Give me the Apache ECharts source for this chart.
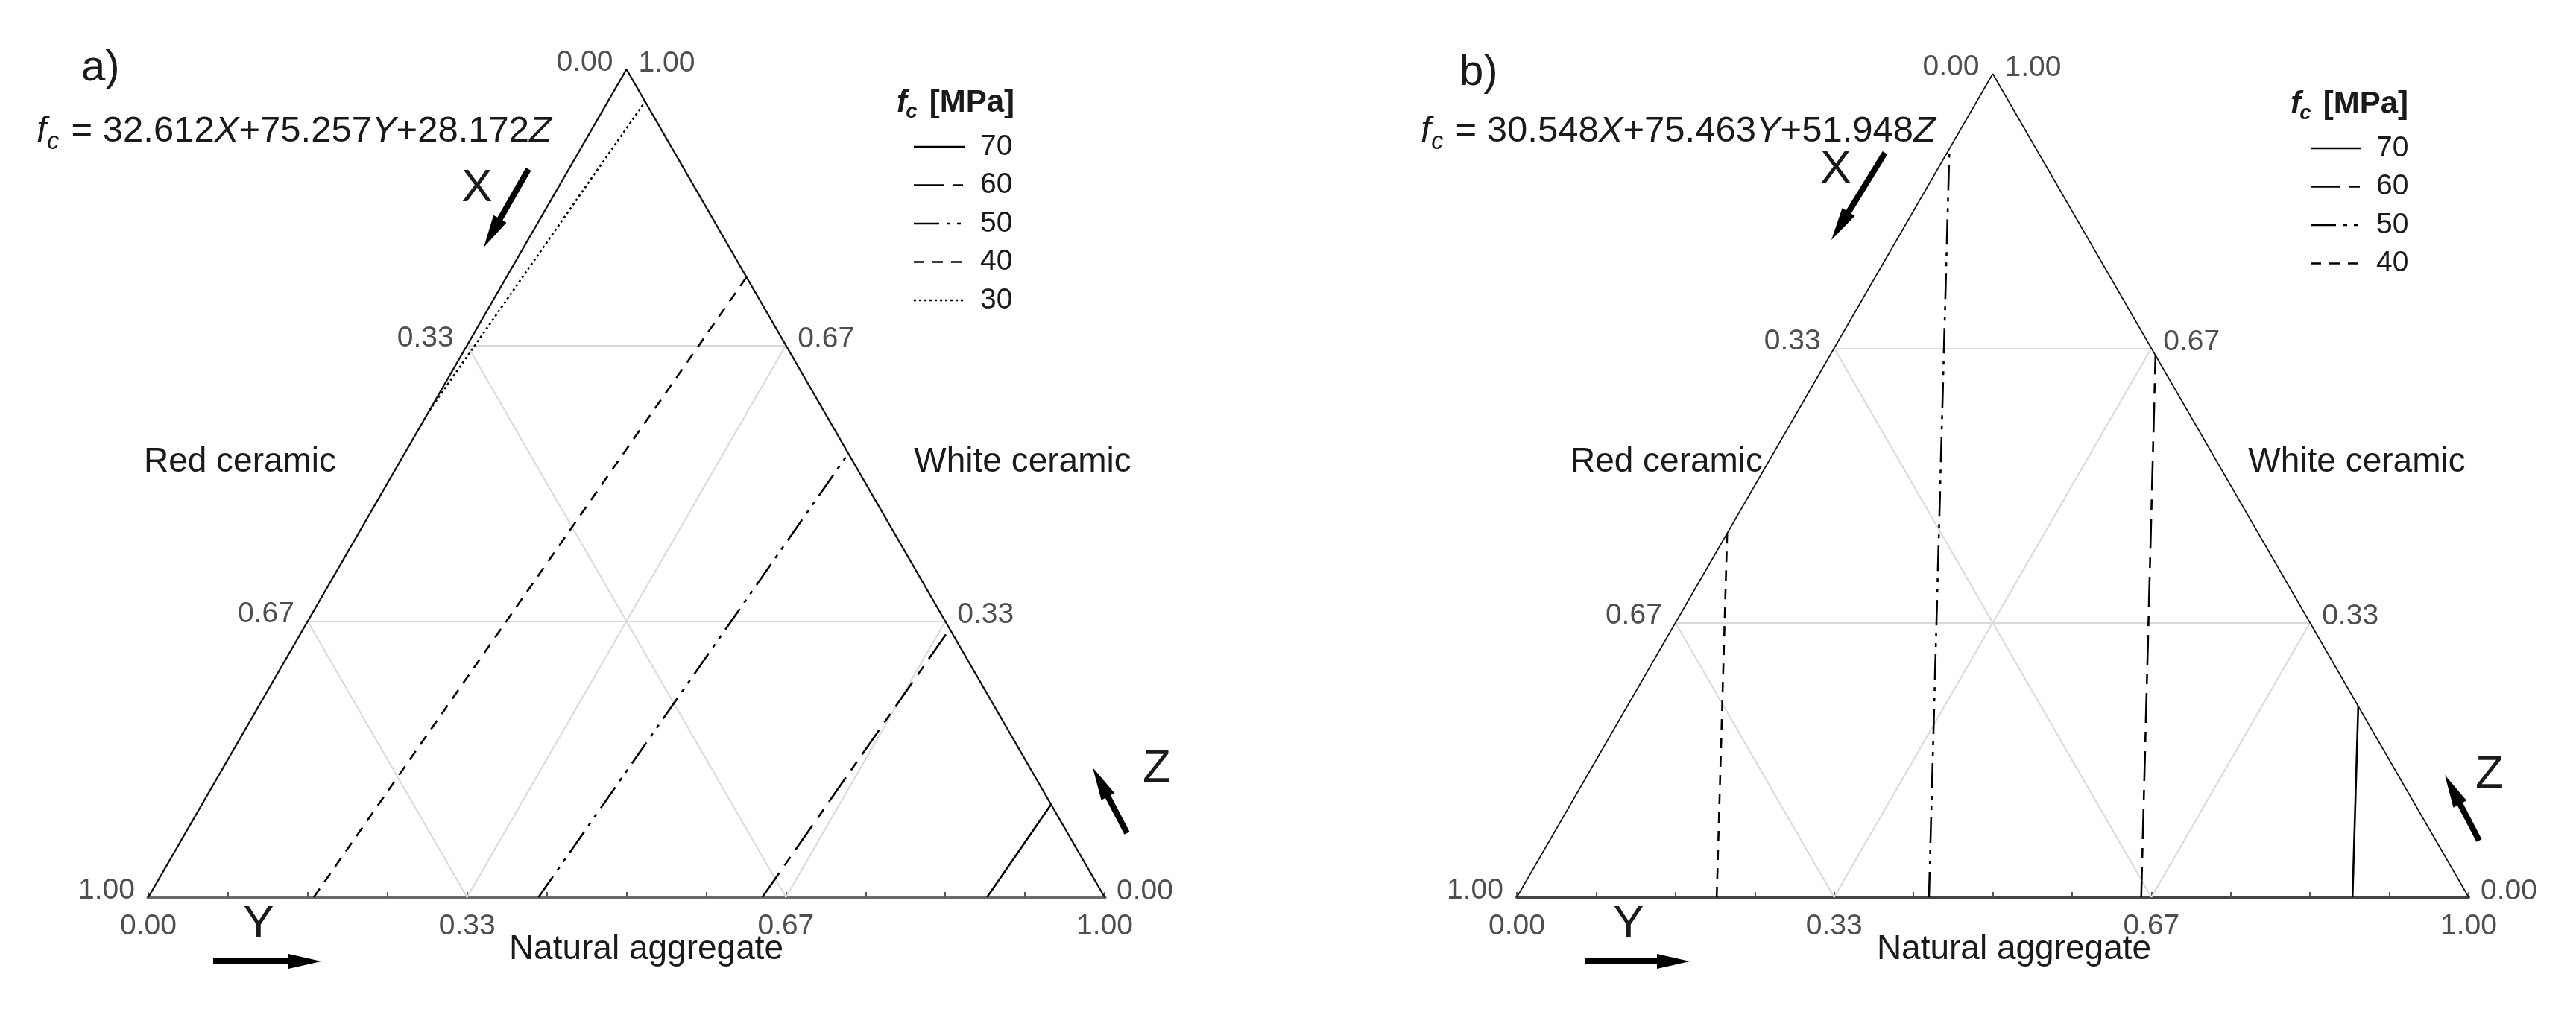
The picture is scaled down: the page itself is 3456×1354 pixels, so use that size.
<!DOCTYPE html>
<html><head><meta charset="utf-8">
<script src="https://cdn.jsdelivr.net/npm/echarts@6/dist/echarts.min.js"></script>
<style>html,body{margin:0;padding:0;background:#fff}#c{width:3456px;height:1354px}</style>
</head><body><div id="c"></div>
<script>
// ---- data ----
const tickLabels = ['0.00', '0.33', '0.67', '1.00'];
const gridFractions = [1 / 3, 2 / 3];
const componentNames = ['Red ceramic', 'White ceramic', 'Natural aggregate'];
const panelTags = ['a)', 'b)'];
// equation coefficients (X, Y, Z)
const coeffA = ['32.612', '75.257', '28.172'];
const coeffB = ['30.548', '75.463', '51.948'];
// contour levels (MPa) and their end points, as ternary (X, Y, Z)
const levelsA = [70, 60, 50, 40, 30];
const startA = [[0.123, 0.877, 0], [0.358, 0.642, 0], [0.592, 0.408, 0], [0.827, 0.173, 0], [0.412, 0, 0.588]];
const endA   = [[0, 0.888, 0.112], [0, 0.676, 0.324], [0, 0.464, 0.536], [0, 0.251, 0.749], [0, 0.039, 0.961]];
const levelsB = [70, 60, 50, 40];
const startB = [[0.122, 0.878, 0], [0.344, 0.656, 0], [0.567, 0.433, 0], [0.790, 0.210, 0]];
const endB   = [[0, 0.768, 0.232], [0, 0.342, 0.658], [0.091, 0, 0.909], [0.558, 0, 0.442]];

// ---- styles ----
const FONT = '"Liberation Sans", Arial, Helvetica, sans-serif';
const TXT = '#1a1a1a';
const dash = { 70: 'solid', 60: [40, 12, 14, 12], 50: [34, 10, 5, 9, 5, 10], 40: [14, 11], 30: [3, 4] };

// X: red ceramic (bottom-left = 1), Y: natural aggregate (bottom-right = 1), Z: white ceramic (apex = 1)
function tern(p) { return [p[1] + p[2] / 2, p[2]]; }

const panels = [
  { grid: { left: 199, top: 93, width: 1283, height: 1111 }, levels: levelsA, start: startA, end: endA, coeff: coeffA, edgeW: 2.4, baseW: 5, baseC: '#6a6a6a' },
  { grid: { left: 2035, top: 99, width: 1277, height: 1105 }, levels: levelsB, start: startB, end: endB, coeff: coeffB, edgeW: 1.7, baseW: 4, baseC: '#444' }
];

const grids = [], xAxes = [], yAxes = [], series = [];
panels.forEach((P, g) => {
  grids.push(P.grid);
  xAxes.push({
    gridIndex: g, type: 'value', min: 0, max: 1, interval: 1 / 12,
    axisLine: { show: true, lineStyle: { color: P.baseC, width: P.baseW } },
    axisTick: { show: true, inside: true, length: 7, lineStyle: { color: '#555', width: 2 } },
    axisLabel: { show: false }, splitLine: { show: false }
  });
  yAxes.push({ gridIndex: g, type: 'value', min: 0, max: 1, show: false });

  // light triangular grid
  const gl = [];
  gridFractions.forEach(v => {
    gl.push({ coords: [tern([v, 0, 1 - v]), tern([v, 1 - v, 0])] });
    gl.push({ coords: [tern([1 - v, v, 0]), tern([0, v, 1 - v])] });
    gl.push({ coords: [tern([1 - v, 0, v]), tern([0, 1 - v, v])] });
  });
  series.push({ type: 'lines', coordinateSystem: 'cartesian2d', xAxisIndex: g, yAxisIndex: g, silent: true, z: 1,
    data: gl, lineStyle: { color: '#d9d9d9', width: 2, opacity: 1 } });

  // triangle sides
  series.push({ type: 'line', xAxisIndex: g, yAxisIndex: g, symbol: 'none', silent: true, z: 3,
    data: [tern([1, 0, 0]), tern([0, 0, 1]), tern([0, 1, 0])],
    lineStyle: { color: '#111', width: P.edgeW } });

  // contour lines
  P.levels.forEach((lv, i) => {
    series.push({ type: 'line', name: String(lv), xAxisIndex: g, yAxisIndex: g, symbol: 'none', silent: true, z: 4,
      data: [tern(P.start[i]), tern(P.end[i])],
      lineStyle: { color: '#000', width: 2.6, type: dash[lv] } });
  });

  // tick labels on the three sides
  const lab = [];
  const ticks = [0, 1 / 3, 2 / 3, 1];
  ticks.forEach((v, k) => {
    lab.push({ value: tern([v, 0, 1 - v]), name: tickLabels[k], label: { position: 'left', distance: 18, offset: [0, -9] } });
    lab.push({ value: tern([0, v, 1 - v]), name: tickLabels[3 - k], label: { position: 'right', distance: 16, offset: [0, -8] } });
    lab.push({ value: tern([1 - v, v, 0]), name: tickLabels[k], label: { position: 'bottom', distance: 20 } });
  });
  series.push({ type: 'scatter', xAxisIndex: g, yAxisIndex: g, symbolSize: 0, silent: true, z: 5, data: lab,
    label: { show: true, formatter: p => p.name, fontFamily: FONT, fontSize: 39, color: '#222' } });
});

// ---- annotations ----
const graphic = [];
function text(x, y, str, size, opt) {
  opt = opt || {};
  graphic.push({ type: 'text', x: x, y: y, z: 10, silent: true,
    style: { text: str, font: (opt.style || '') + ' ' + (opt.weight || '') + ' ' + size + 'px ' + FONT, fill: TXT,
      align: opt.align || 'left', textAlign: opt.align || 'left',
      verticalAlign: 'middle', textVerticalAlign: 'middle', rich: opt.rich } });
}
function arrow(x1, y1, x2, y2) {
  const dx = x2 - x1, dy = y2 - y1, L = Math.hypot(dx, dy), ux = dx / L, uy = dy / L, px = -uy, py = ux;
  const hl = 44, hw = 20, bx = x2 - ux * hl, by = y2 - uy * hl;
  graphic.push({ type: 'line', z: 10, silent: true, shape: { x1: x1, y1: y1, x2: bx + ux * 4, y2: by + uy * 4 }, style: { stroke: '#000', lineWidth: 8 } });
  graphic.push({ type: 'polygon', z: 10, silent: true, shape: { points: [[x2, y2], [bx + px * hw / 2, by + py * hw / 2], [bx - px * hw / 2, by - py * hw / 2]] }, style: { fill: '#000' } });
}
function fsub(x, y, size, weight) {
  text(x, y, 'f', size, { style: 'italic', weight: weight });
  text(x + size * 0.29, y + size * 0.3, 'c', size * 0.66, { style: 'italic', weight: weight });
}
const eqRich = { i: { fontStyle: 'italic', fontSize: 49, fontFamily: FONT, fill: TXT, color: TXT } };

const L = [
  { tag: [109, 92], eq: [49, 176], X: [640, 253], Xa: [709, 227, 649, 332], Y: [347, 1241], Ya: [286, 1290, 431, 1290],
    Z: [1552, 1032], Za: [1512, 1118, 1466, 1030], red: [322, 620], white: [1372, 620], nat: [867, 1274], leg: [1203, 138], legLine: [1226, 1295] },
  { tag: [1958, 98], eq: [1906, 176], X: [2463, 228], Xa: [2529, 205, 2457, 322], Y: [2185, 1241], Ya: [2127, 1290, 2267, 1290],
    Z: [3340, 1040], Za: [3326, 1128, 3280, 1040], red: [2236, 620], white: [3162, 620], nat: [2702, 1274], leg: [3073, 140], legLine: [3100, 3168] }
];

L.forEach((o, g) => {
  const P = panels[g];
  text(o.tag[0], o.tag[1], panelTags[g], 58);
  fsub(o.eq[0], o.eq[1], 49);
  text(o.eq[0] + 33, o.eq[1], ' = ' + P.coeff[0] + '{i|X}+' + P.coeff[1] + '{i|Y}+' + P.coeff[2] + '{i|Z}', 49, { rich: eqRich });
  text(o.X[0], o.X[1], 'X', 62, { align: 'center' });
  arrow(o.Xa[0], o.Xa[1], o.Xa[2], o.Xa[3]);
  text(o.Y[0], o.Y[1], 'Y', 62, { align: 'center' });
  arrow(o.Ya[0], o.Ya[1], o.Ya[2], o.Ya[3]);
  text(o.Z[0], o.Z[1], 'Z', 62, { align: 'center' });
  arrow(o.Za[0], o.Za[1], o.Za[2], o.Za[3]);
  text(o.red[0], o.red[1], componentNames[0], 46, { align: 'center' });
  text(o.white[0], o.white[1], componentNames[1], 46, { align: 'center' });
  text(o.nat[0], o.nat[1], componentNames[2], 46, { align: 'center' });
  // legend
  fsub(o.leg[0], o.leg[1], 42, 'bold');
  text(o.leg[0] + 32, o.leg[1], ' [MPa]', 42, { weight: 'bold' });
  P.levels.forEach((lv, i) => {
    const y = o.leg[1] + 59 + i * 51.5;
    graphic.push({ type: 'line', z: 10, silent: true, shape: { x1: o.legLine[0], y1: y, x2: o.legLine[1], y2: y },
      style: { stroke: '#000', lineWidth: 2.6, lineDash: dash[lv] === 'solid' ? null : dash[lv] } });
    text(o.legLine[1] + 20, y, String(lv), 39);
  });
});
// the source figure is cropped just below the bottom captions
graphic.push({ type: 'rect', z: 20, silent: true, shape: { x: 0, y: 1302, width: 3456, height: 52 }, style: { fill: '#fff' } });

const chart = echarts.init(document.getElementById('c'), null, { renderer: 'canvas' });
chart.setOption({
  animation: false, backgroundColor: '#fff',
  grid: grids, xAxis: xAxes, yAxis: yAxes, series: series, graphic: graphic
});
</script></body></html>
